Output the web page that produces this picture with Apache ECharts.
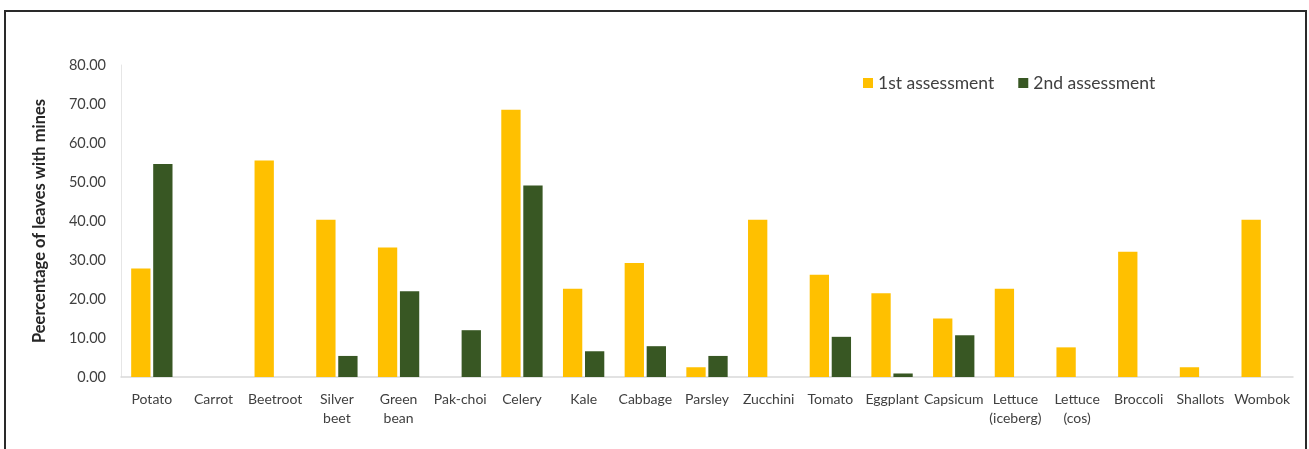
<!DOCTYPE html>
<html><head><meta charset="utf-8">
<script src="https://cdn.jsdelivr.net/npm/echarts@6/dist/echarts.min.js"></script>
<style>
html,body{margin:0;padding:0;background:#fff;overflow:hidden}
#frame{position:absolute;left:4px;top:10px;width:1303px;height:460px;border:2px solid #2a2a2a;box-sizing:border-box}
#c{position:absolute;left:0;top:0;width:1309px;height:449px}
</style></head><body>
<div id="frame"></div>
<div id="c"></div>
<script>
const categories = ["Potato","Carrot","Beetroot","Silver\nbeet","Green\nbean","Pak-choi","Celery","Kale","Cabbage","Parsley","Zucchini","Tomato","Eggplant","Capsicum","Lettuce\n(iceberg)","Lettuce\n(cos)","Broccoli","Shallots","Wombok"];
const first = [27.8,0,55.5,40.3,33.2,0,68.5,22.6,29.2,2.5,40.3,26.2,21.5,15.0,22.6,7.6,32.1,2.5,40.3];
const second = [54.6,0,0,5.4,22.0,12.0,49.1,6.6,7.9,5.4,0,10.3,0.9,10.7,0,0,0,0,0];
const seriesNames = ["1st assessment","2nd assessment"];
const chart = echarts.init(document.getElementById('c'));
const font = 'Lato, "Open Sans", sans-serif';
chart.setOption({
  animation:false,
  textStyle:{fontFamily:font},
  legend:{left:858,top:69,itemWidth:10,itemHeight:10,itemGap:24,icon:'rect',
    textStyle:{fontSize:17.5,color:'#404040',fontFamily:font},data:seriesNames},
  grid:{left:121,right:16,top:65,bottom:72,containLabel:false},
  xAxis:{type:'category',data:categories,
    axisLine:{lineStyle:{color:'#d9d9d9',width:1.5}},axisTick:{show:false},
    axisLabel:{interval:0,color:'#404040',fontSize:14,margin:13,lineHeight:19,fontFamily:font}},
  yAxis:{type:'value',min:0,max:80,interval:10,
    name:'Peercentage of leaves with mines',nameLocation:'middle',nameGap:73,
    nameTextStyle:{fontSize:16.5,fontWeight:'bold',color:'#262626',fontFamily:font},
    axisLine:{show:true,lineStyle:{color:'#e6e6e6'}},axisTick:{show:false},splitLine:{show:false},
    axisLabel:{color:'#404040',fontSize:14.5,margin:15,formatter:v=>v.toFixed(2),fontFamily:font}},
  series:[
    {name:seriesNames[0],type:'bar',data:first,itemStyle:{color:'#FFC000'},barGap:'14%',barCategoryGap:'33%'},
    {name:seriesNames[1],type:'bar',data:second,itemStyle:{color:'#385723'}}
  ]
});
</script></body></html>
